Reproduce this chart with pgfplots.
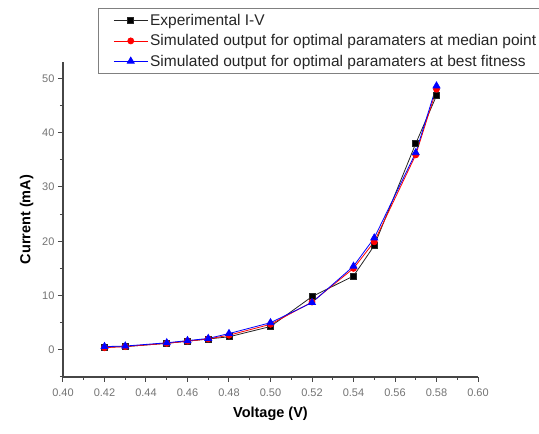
\documentclass[border=0pt]{standalone}
\usepackage{pgfplots}
\pgfplotsset{compat=1.18}
\usepackage{fontspec}
\setmainfont{Liberation Sans}

\definecolor{axisgray}{RGB}{70,70,70}
\definecolor{ticklab}{RGB}{115,115,115}

\begin{document}
\begin{tikzpicture}
\begin{axis}[
  name=main,
  at={(0,0)}, anchor=south west,
  scale only axis,
  width=415pt, height=315pt,
  xmin=0.40, xmax=0.60,
  ymin=-5, ymax=53,
  axis x line=bottom,
  axis y line=left,
  axis line style={-, axisgray, line width=1.2pt},
  tick align=outside,
  major tick length=5pt,
  minor tick length=3pt,
  every tick/.style={axisgray, line width=1pt},
  xtick={0.40,0.42,0.44,0.46,0.48,0.50,0.52,0.54,0.56,0.58,0.60},
  minor x tick num=1,
  ytick={0,10,20,30,40,50},
  minor ytick={-5,5,15,25,35,45},
  scaled x ticks=false,
  xticklabel style={yshift=-3pt, /pgf/number format/.cd, fixed, fixed zerofill, precision=2},
  /pgf/number format/assume math mode=true,
  tick label style={font=\fontsize{11}{13}\selectfont, text=ticklab},
  xlabel={\textbf{Voltage (V)}},
  ylabel={\textbf{Current (mA)}},
  label style={font=\fontsize{14.5}{16}\selectfont},
  xlabel style={yshift=-4pt},
  ylabel style={yshift=2pt},
  legend style={
    at={(rel axis cs:0.084,1.172)}, anchor=north west,
    draw=gray, line width=1pt,
    font=\fontsize{15.5}{17}\selectfont,
    text=black!85,
    cells={anchor=west},
    row sep=3.5pt,
    inner xsep=2pt, inner ysep=4pt,
  },
  legend image code/.code={
    \path (0pt,0pt);
    \draw[mark repeat=2, mark phase=2] plot coordinates {(13pt,0pt)(30pt,0pt)(47pt,0pt)};
  },
]
\addplot[black!85, line width=0.8pt, mark=square*, mark size=3pt, mark options={solid, fill=black}] coordinates {
  (0.42,0.5) (0.43,0.6) (0.45,1.2) (0.46,1.6) (0.47,2.0) (0.48,2.4)
  (0.50,4.3) (0.52,9.8) (0.54,13.6) (0.55,19.2) (0.57,38.0) (0.58,46.8)
};
\addlegendentry{Experimental I-V}
\addplot[red, line width=0.8pt, mark=*, mark size=3pt, mark options={solid, fill=red}] coordinates {
  (0.42,0.4) (0.43,0.6) (0.45,1.2) (0.46,1.6) (0.47,2.0) (0.48,2.7)
  (0.50,4.7) (0.52,8.8) (0.54,15.0) (0.55,19.9) (0.57,35.9) (0.58,48.0)
};
\addlegendentry{Simulated output for optimal paramaters at median point}
\addplot[blue, line width=0.8pt, mark=triangle*, mark size=4pt, mark options={solid, fill=blue}] coordinates {
  (0.42,0.6) (0.43,0.7) (0.45,1.3) (0.46,1.7) (0.47,2.1) (0.48,3.0)
  (0.50,5.0) (0.52,8.7) (0.54,15.4) (0.55,20.6) (0.57,36.3) (0.58,48.6)
};
\addlegendentry{Simulated output for optimal paramaters at best fitness}
\end{axis}
\pgfresetboundingbox
\path (-63pt,-57pt) rectangle (476pt,377pt);
\end{tikzpicture}
\end{document}
